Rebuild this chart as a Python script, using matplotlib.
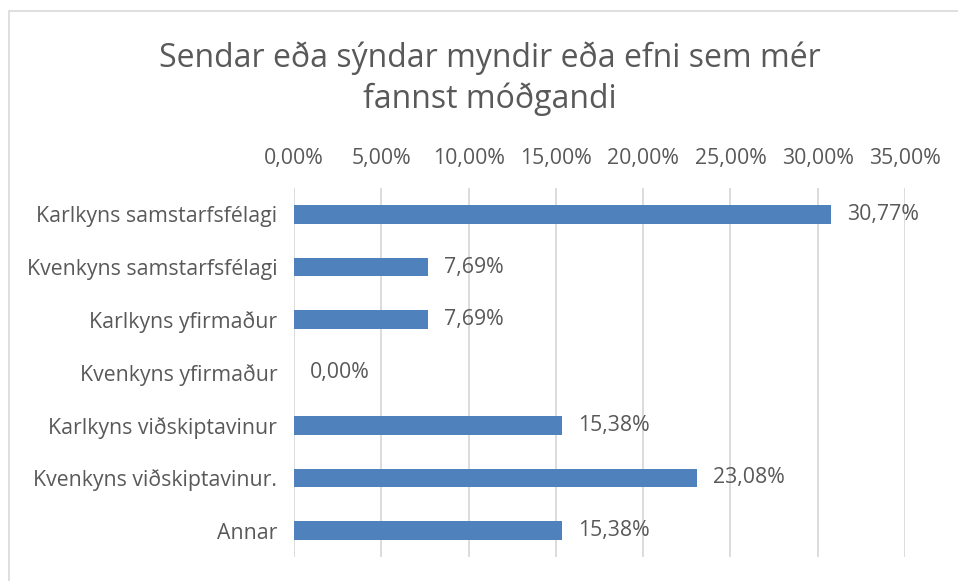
import matplotlib
matplotlib.use("Agg")
import matplotlib.pyplot as plt
from matplotlib.ticker import FuncFormatter, MultipleLocator
from matplotlib.patches import Rectangle

categories = ["Karlkyns samstarfsfélagi", "Kvenkyns samstarfsfélagi", "Karlkyns yfirmaður",
              "Kvenkyns yfirmaður", "Karlkyns viðskiptavinur", "Kvenkyns viðskiptavinur.", "Annar"]
values = [30.77, 7.69, 7.69, 0.00, 15.38, 23.08, 15.38]
title = "Sendar eða sýndar myndir eða efni sem mér\nfannst móðgandi"

plt.rcParams['font.family'] = ['Open Sans', 'DejaVu Sans']
TXT = '#595959'
BAR = '#4F81BD'

W, H = 958, 581
fig = plt.figure(figsize=(W / 100, H / 100), dpi=100)

# chart border
fig.patches.append(Rectangle((9 / W, -0.1), 1.2, 1 - 11 / H + 0.1, transform=fig.transFigure,
                             fill=False, edgecolor='#D9D9D9', linewidth=1.2))

ax = fig.add_axes([294 / W, 1 - 557 / H, (905 - 294) / W, (557 - 188) / H])
y = list(range(len(categories)))
ax.barh(y, values, height=0.355, color=BAR, zorder=3)
ax.set_ylim(len(categories) - 0.5, -0.5)
ax.set_xlim(0, 35)
ax.xaxis.set_major_locator(MultipleLocator(5))
ax.xaxis.set_major_formatter(FuncFormatter(lambda v, p: f"{v:.2f}%".replace('.', ',')))
ax.xaxis.tick_top()
ax.grid(axis='x', color='#D9D9D9', linewidth=1.3, zorder=0)
for s in ax.spines.values():
    s.set_visible(False)
ax.tick_params(axis='both', length=0, colors=TXT, labelsize=15.3)
ax.tick_params(axis='x', pad=14)
ax.tick_params(axis='y', pad=12)
ax.set_yticks(y)
ax.set_yticklabels(categories)

for yi, v in zip(y, values):
    ax.annotate(f"{v:.2f}%".replace('.', ','), (v, yi), xytext=(11.5, 0), textcoords='offset points',
                va='center', ha='left', fontsize=15.3, color=TXT)

fig.text(490 / W, 1 - 79 / H, title, ha='center', va='center', fontsize=23, color=TXT,
         linespacing=1.3)

fig.savefig("out.png", dpi=100, facecolor='white')
